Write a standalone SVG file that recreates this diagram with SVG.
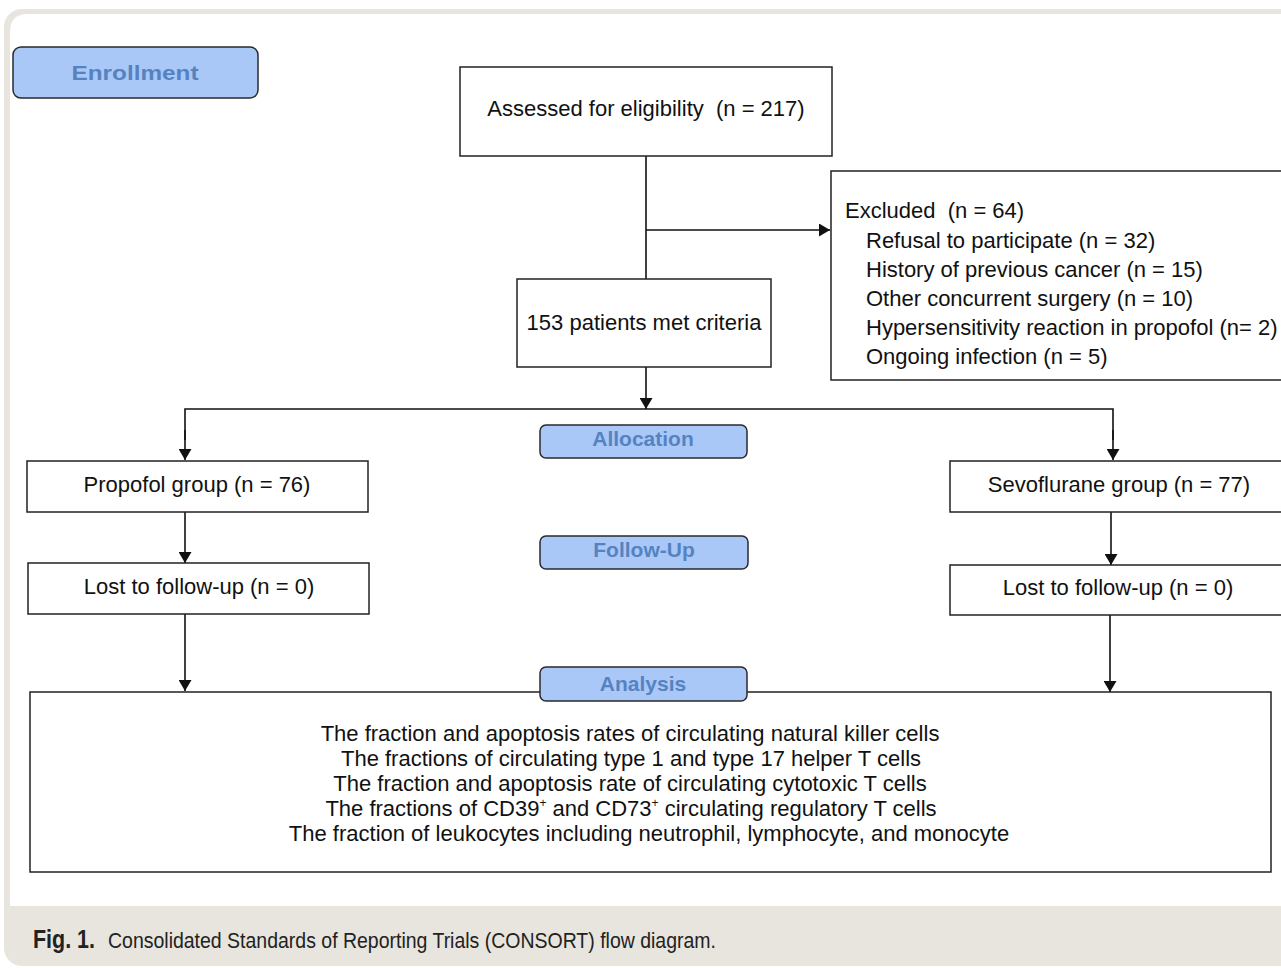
<svg xmlns="http://www.w3.org/2000/svg" width="1281" height="968" viewBox="0 0 1281 968">
<defs>
<marker id="ah" markerWidth="11" markerHeight="13" refX="11" refY="6.5" orient="auto" markerUnits="userSpaceOnUse">
<path d="M0,0 L11,6.5 L0,13 z" fill="#111"/>
</marker>
<style>
.box{fill:#fff;stroke:#222;stroke-width:1.5}
.lab{fill:#a9c8f8;stroke:#2a2a2a;stroke-width:1.5}
.labt{font-family:"Liberation Sans",Arial,sans-serif;font-weight:bold;font-size:21px;fill:#5683bf;text-anchor:middle}
.t{font-family:"Liberation Sans",Arial,sans-serif;font-size:22px;fill:#111}
.c{text-anchor:middle}
.ln{fill:none;stroke:#111;stroke-width:1.6}
.cap{font-family:"Liberation Sans",Arial,sans-serif;fill:#222}
</style>
</defs>
<rect x="0" y="0" width="1281" height="968" fill="#fff"/>
<rect x="4" y="9" width="1300" height="957" rx="18" fill="#e8e5df"/>
<path d="M10,906 L10,32 Q10,14 28,14 L1281,14 L1281,906 Z" fill="#fff"/>

<g id="connectors">
<line class="ln" x1="646" y1="156" x2="646" y2="279"/>
<line class="ln" x1="646" y1="230" x2="830" y2="230" marker-end="url(#ah)"/>
<line class="ln" x1="646" y1="367" x2="646" y2="409" marker-end="url(#ah)"/>
<polyline class="ln" points="185,440 185,409 1113,409 1113,440"/>
<line class="ln" x1="185" y1="430" x2="185" y2="460" marker-end="url(#ah)"/>
<line class="ln" x1="1113" y1="430" x2="1113" y2="460" marker-end="url(#ah)"/>
<line class="ln" x1="185" y1="512" x2="185" y2="563" marker-end="url(#ah)"/>
<line class="ln" x1="1111" y1="512" x2="1111" y2="565" marker-end="url(#ah)"/>
<line class="ln" x1="185" y1="614" x2="185" y2="691" marker-end="url(#ah)"/>
<line class="ln" x1="1110" y1="615" x2="1110" y2="692" marker-end="url(#ah)"/>
</g>

<g id="enrollment">
<rect class="lab" x="13" y="47" width="245" height="51" rx="8"/>
<text class="labt" x="135" y="80" font-size="25" textLength="127" lengthAdjust="spacingAndGlyphs">Enrollment</text>
</g>

<g id="assessed">
<rect class="box" x="460" y="67" width="372" height="89"/>
<text class="t c" x="646" y="116" xml:space="preserve">Assessed for eligibility  (n = 217)</text>
</g>

<g id="excluded">
<rect class="box" x="831" y="171" width="460" height="209"/>
<text class="t" x="845" y="218" xml:space="preserve">Excluded  (n = 64)</text>
<text class="t" x="866" y="248">Refusal to participate (n = 32)</text>
<text class="t" x="866" y="277">History of previous cancer (n = 15)</text>
<text class="t" x="866" y="306">Other concurrent surgery (n = 10)</text>
<text class="t" x="866" y="335">Hypersensitivity reaction in propofol (n= 2)</text>
<text class="t" x="866" y="364">Ongoing infection (n = 5)</text>
</g>

<g id="met">
<rect class="box" x="517" y="279" width="254" height="88"/>
<text class="t c" x="644" y="330">153 patients met criteria</text>
</g>

<g id="allocation">
<rect class="lab" x="540" y="425" width="207" height="33" rx="6"/>
<text class="labt" x="643" y="446" font-size="20">Allocation</text>
</g>

<g id="propofol">
<rect class="box" x="27" y="461" width="341" height="51"/>
<text class="t c" x="197" y="492">Propofol group (n = 76)</text>
</g>

<g id="sevoflurane">
<rect class="box" x="950" y="461" width="340" height="51"/>
<text class="t c" x="1119" y="492">Sevoflurane group (n = 77)</text>
</g>

<g id="followup">
<rect class="lab" x="540" y="536" width="208" height="33" rx="6"/>
<text class="labt" x="644" y="557" font-size="21">Follow-Up</text>
</g>

<g id="lost-left">
<rect class="box" x="28" y="563" width="341" height="51"/>
<text class="t c" x="199" y="594">Lost to follow-up (n = 0)</text>
</g>

<g id="lost-right">
<rect class="box" x="950" y="565" width="340" height="50"/>
<text class="t c" x="1118" y="595">Lost to follow-up (n = 0)</text>
</g>

<g id="analysis-box">
<rect class="box" x="30" y="692" width="1241" height="180"/>
<text class="t c" x="630" y="741">The fraction and apoptosis rates of circulating natural killer cells</text>
<text class="t c" x="631" y="766">The fractions of circulating type 1 and type 17 helper T cells</text>
<text class="t c" x="630" y="791">The fraction and apoptosis rate of circulating cytotoxic T cells</text>
<text class="t c" x="631" y="816">The fractions of CD39<tspan font-size="12" dy="-9">+</tspan><tspan dy="9"> and CD73</tspan><tspan font-size="12" dy="-9">+</tspan><tspan dy="9"> circulating regulatory T cells</tspan></text>
<text class="t c" x="649" y="841">The fraction of leukocytes including neutrophil, lymphocyte, and monocyte</text>
</g>

<g id="analysis">
<rect class="lab" x="540" y="667" width="207" height="34" rx="6"/>
<text class="labt" x="643" y="691" font-size="20">Analysis</text>
</g>

<g id="caption">
<text class="cap" x="33" y="948" font-size="26" font-weight="bold" textLength="62" lengthAdjust="spacingAndGlyphs">Fig. 1.</text>
<text class="cap" x="108" y="948" font-size="22" textLength="608" lengthAdjust="spacingAndGlyphs">Consolidated Standards of Reporting Trials (CONSORT) flow diagram.</text>
</g>
</svg>
